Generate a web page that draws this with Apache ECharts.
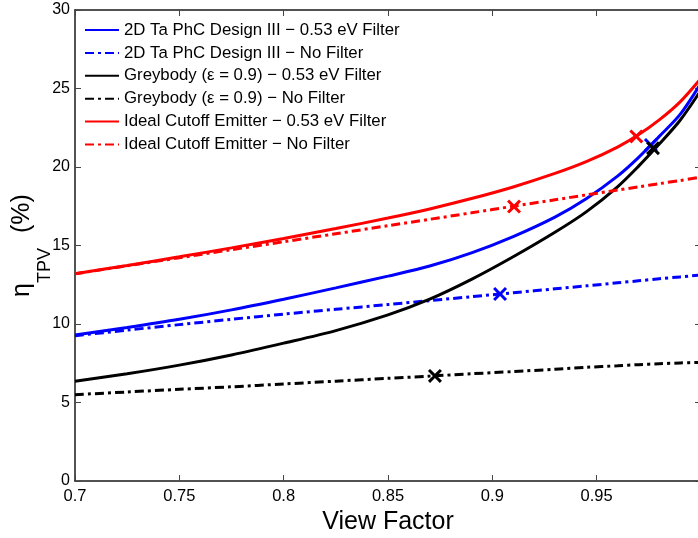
<!DOCTYPE html>
<html>
<head>
<meta charset="utf-8">
<script src="https://cdn.jsdelivr.net/npm/echarts@6/dist/echarts.min.js"></script>
<style>
  html, body { margin: 0; padding: 0; background: #fff; }
  #chart { width: 698px; height: 538px; }
</style>
</head>
<body>
<div id="chart"></div>
<script>
// View factor samples shared by every curve
const viewFactor = [0.70, 0.725, 0.75, 0.775, 0.80, 0.825, 0.85, 0.87, 0.89, 0.91, 0.93, 0.945, 0.96, 0.97, 0.98, 0.99, 1.00];

// TPV efficiency (%) for each emitter / filter combination
const phcFilter     = [9.3, 9.78, 10.3, 10.9, 11.58, 12.3, 13.05, 13.69, 14.53, 15.57, 16.81, 17.98, 19.42, 20.6, 21.95, 23.35, 25.35];
const phcNoFilter   = [9.25, 9.61, 9.96, 10.3, 10.63, 10.94, 11.24, 11.49, 11.74, 11.99, 12.24, 12.43, 12.62, 12.75, 12.88, 13.0, 13.12];
const greyFilter    = [6.35, 6.83, 7.38, 8.03, 8.78, 9.58, 10.58, 11.58, 12.84, 14.28, 15.84, 17.14, 18.74, 20.04, 21.46, 22.98, 24.9];
const greyNoFilter  = [5.5, 5.67, 5.84, 6.0, 6.18, 6.36, 6.54, 6.68, 6.83, 6.97, 7.12, 7.24, 7.34, 7.41, 7.47, 7.52, 7.56];
const idealFilter   = [13.2, 13.73, 14.28, 14.85, 15.45, 16.08, 16.75, 17.33, 17.99, 18.73, 19.59, 20.34, 21.27, 22.05, 23.0, 24.15, 25.65];
const idealNoFilter = [13.2, 13.71, 14.22, 14.73, 15.24, 15.75, 16.26, 16.67, 17.08, 17.5, 17.91, 18.22, 18.53, 18.73, 18.94, 19.14, 19.35];

// Operating points marked with a cross: [view factor, efficiency]
const phcFilterPoint     = [0.976, 21.4];
const phcNoFilterPoint   = [0.9037, 11.91];
const greyFilterPoint    = [0.977, 21.2];
const greyNoFilterPoint  = [0.8725, 6.69];
const idealFilterPoint   = [0.969, 21.95];
const idealNoFilterPoint = [0.9104, 17.48];

// Axis ticks
const xTicks = { min: 0.7, max: 1.0, step: 0.05 };
const yTicks = { min: 0, max: 30, step: 5 };

const seriesNames = [
  '2D Ta PhC Design III \u2212 0.53 eV Filter',
  '2D Ta PhC Design III \u2212 No Filter',
  'Greybody (\u03b5 = 0.9) \u2212 0.53 eV Filter',
  'Greybody (\u03b5 = 0.9) \u2212 No Filter',
  'Ideal Cutoff Emitter \u2212 0.53 eV Filter',
  'Ideal Cutoff Emitter \u2212 No Filter'
];

const BLUE = '#0000ff', BLACK = '#000000', RED = '#ff0000';
const DASH_DOT = [9, 4, 3, 4];
const FONT = 'Liberation Sans, Arial, Helvetica, sans-serif';
const CROSS = 'path://M0,1.5L1.5,0L5,3.5L8.5,0L10,1.5L6.5,5L10,8.5L8.5,10L5,6.5L1.5,10L0,8.5L3.5,5Z';

const pairs = ys => viewFactor.map((x, i) => [x, ys[i]]);

function curve(name, ys, color, dashed) {
  return {
    name: name,
    type: 'line',
    data: pairs(ys),
    showSymbol: false,
    symbol: 'none',
    smooth: 0.3,
    lineStyle: { color: color, width: 3, type: dashed ? DASH_DOT : 'solid' },
    itemStyle: { color: color },
    z: 2
  };
}

function cross(point, color) {
  return {
    type: 'scatter',
    data: [point],
    symbol: CROSS,
    symbolSize: 14,
    itemStyle: { color: color, opacity: 1 },
    silent: true,
    z: 4
  };
}

const chart = echarts.init(document.getElementById('chart'), null, { renderer: 'canvas' });

const axisLine = { show: true, onZero: false, lineStyle: { color: '#1a1a1a', width: 1.5 } };
const axisTick = { show: true, inside: true, length: 6, lineStyle: { color: '#444', width: 1 } };

chart.setOption({
  animation: false,
  backgroundColor: '#ffffff',
  grid: { left: 75, top: 10, width: 626, height: 471, containLabel: false, outerBoundsMode: 'none' },
  legend: {
    orient: 'vertical',
    left: 79,
    top: 16,
    itemWidth: 34,
    itemHeight: 18,
    itemGap: 4.9,
    data: seriesNames,
    itemStyle: { opacity: 0 },
    textStyle: { fontFamily: FONT, fontSize: 16.8, color: '#000', lineHeight: 18 },
    selectedMode: false
  },
  xAxis: [
    {
      type: 'value',
      min: xTicks.min,
      max: xTicks.max,
      interval: xTicks.step,
      name: 'View Factor',
      nameLocation: 'middle',
      nameGap: 29,
      nameMoveOverlap: false,
      nameTextStyle: { fontFamily: FONT, fontSize: 25, color: '#000' },
      axisLine: axisLine,
      axisTick: axisTick,
      splitLine: { show: false },
      axisLabel: {
        fontFamily: FONT, fontSize: 16.5, color: '#000', margin: 7,
        showMaxLabel: false,
        formatter: v => String(Math.round(v * 100) / 100)
      }
    },
    {
      type: 'value',
      position: 'top',
      min: xTicks.min,
      max: xTicks.max,
      interval: xTicks.step,
      axisLine: axisLine,
      axisTick: axisTick,
      axisLabel: { show: false },
      splitLine: { show: false }
    }
  ],
  yAxis: [
    {
      type: 'value',
      min: yTicks.min,
      max: yTicks.max,
      interval: yTicks.step,
      name: '{a|\u03b7}{b|TPV}{c|(%)}',
      nameLocation: 'middle',
      nameRotate: 90,
      nameGap: 21,
      nameMoveOverlap: false,
      nameTextStyle: {
        rich: {
          a: { fontFamily: FONT, fontSize: 25, color: '#000', verticalAlign: 'bottom', padding: [0, 0, 19, 0] },
          b: { fontFamily: FONT, fontSize: 18, color: '#000', verticalAlign: 'bottom' },
          c: { fontFamily: FONT, fontSize: 25, color: '#000', verticalAlign: 'bottom', padding: [0, 0, 19, 15] }
        }
      },
      axisLine: axisLine,
      axisTick: axisTick,
      splitLine: { show: false },
      axisLabel: { fontFamily: FONT, fontSize: 16, color: '#000', margin: 5 }
    },
    {
      type: 'value',
      position: 'right',
      min: yTicks.min,
      max: yTicks.max,
      interval: yTicks.step,
      axisLine: axisLine,
      axisTick: axisTick,
      axisLabel: { show: false },
      splitLine: { show: false }
    }
  ],
  series: [
    curve(seriesNames[0], phcFilter, BLUE, false),
    curve(seriesNames[1], phcNoFilter, BLUE, true),
    curve(seriesNames[2], greyFilter, BLACK, false),
    curve(seriesNames[3], greyNoFilter, BLACK, true),
    curve(seriesNames[4], idealFilter, RED, false),
    curve(seriesNames[5], idealNoFilter, RED, true),
    cross(phcFilterPoint, BLUE),
    cross(phcNoFilterPoint, BLUE),
    cross(greyFilterPoint, BLACK),
    cross(greyNoFilterPoint, BLACK),
    cross(idealFilterPoint, RED),
    cross(idealNoFilterPoint, RED)
  ]
});
</script>
</body>
</html>
